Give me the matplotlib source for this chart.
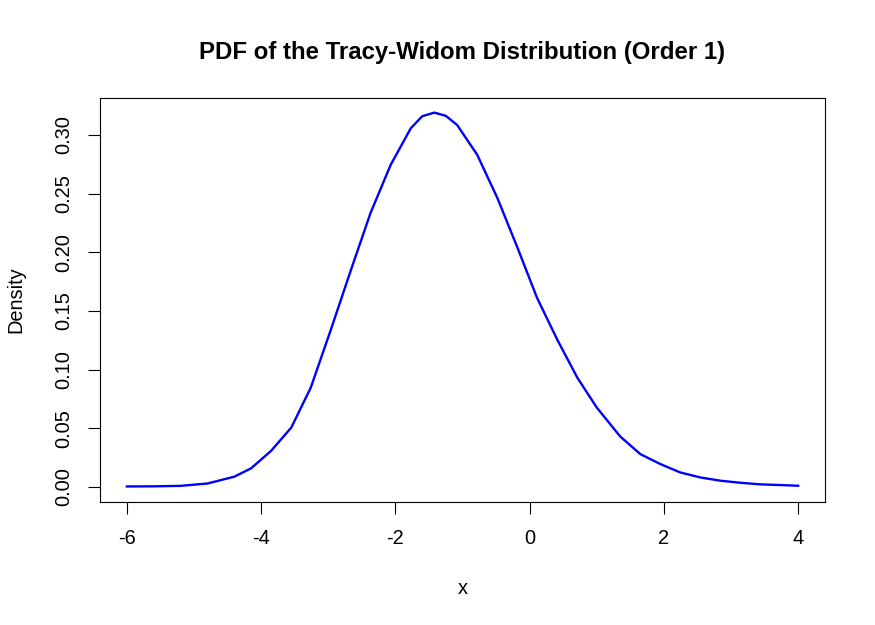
import matplotlib
matplotlib.use("Agg")
import matplotlib.pyplot as plt
import numpy as np

# values
x_vals = [-6.0, -5.6, -5.2, -4.8, -4.4, -4.15, -3.85, -3.55, -3.26, -2.96, -2.66,
          -2.37, -2.07, -1.77, -1.6, -1.42, -1.25, -1.08, -0.78, -0.48, -0.18,
          0.11, 0.41, 0.71, 1.0, 1.35, 1.65, 1.95, 2.24, 2.54, 2.84, 3.13, 3.43,
          3.73, 4.0]
density = [0.0005, 0.0006, 0.001, 0.003, 0.0088, 0.0159, 0.0309, 0.0507, 0.0847,
           0.1342, 0.1852, 0.2334, 0.2744, 0.3056, 0.3158, 0.3189, 0.3162, 0.3084,
           0.2829, 0.2461, 0.2037, 0.1612, 0.1257, 0.0932, 0.0677, 0.0430, 0.0280,
           0.0195, 0.0125, 0.0082, 0.0054, 0.0037, 0.0023, 0.0017, 0.0011]

x_ticks = [-6, -4, -2, 0, 2, 4]
y_ticks = [0.00, 0.05, 0.10, 0.15, 0.20, 0.25, 0.30]

plt.rcParams['font.family'] = ['Liberation Sans', 'DejaVu Sans']

W, H = 875, 625
fig = plt.figure(figsize=(W / 100, H / 100), dpi=100)
ax = fig.add_axes([100 / W, (H - 502) / H, 725 / W, 404 / H])

ax.plot(x_vals, density, color='blue', lw=1.7)

# R style axis ranges (4% padding)
xr = max(x_vals) - min(x_vals)
yr = 0.3186
ax.set_xlim(min(x_vals) - 0.04 * xr, max(x_vals) + 0.04 * xr)
ax.set_ylim(-0.04 * yr, 1.04 * yr)

ax.set_xticks(x_ticks)
ax.set_xticklabels([str(t) for t in x_ticks])
ax.set_yticks(y_ticks)
ax.set_yticklabels(["%.2f" % t for t in y_ticks], rotation=90, va='center')
ax.tick_params(direction='out', length=8.6, width=0.8, labelsize=14.4, pad=11)

for s in ax.spines.values():
    s.set_linewidth(0.8)

fig.text(462.5 / W, 1 - 52 / H, 'PDF of the Tracy-Widom Distribution (Order 1)',
         ha='center', va='center', fontsize=17.3, fontweight='bold')
fig.text(462.5 / W, 1 - 588 / H, 'x', ha='center', va='center', fontsize=14.4)
fig.text(16 / W, 1 - 300 / H, 'Density', ha='center', va='center', fontsize=14.4,
         rotation=90)

fig.savefig('out.png', dpi=100)
